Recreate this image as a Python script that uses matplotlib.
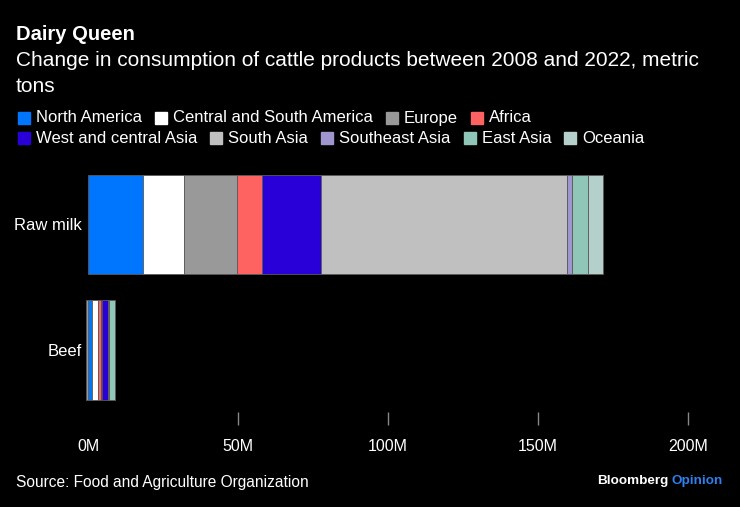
import numpy as np
import matplotlib
matplotlib.use("Agg")
import matplotlib.pyplot as plt
from matplotlib.patches import Rectangle

plt.rcParams["font.family"] = ["Liberation Sans", "DejaVu Sans"]

# data (million metric tons)
products = ["Raw milk", "Beef"]
regions = ["North America", "Central and South America", "Europe", "Africa",
           "West and central Asia", "South Asia", "Southeast Asia", "East Asia", "Oceania"]
colors = ["#0076ff", "#ffffff", "#999999", "#ff6361", "#2a00d8",
          "#c0c0c0", "#9f96d0", "#8fc6b8", "#b5d0ca"]
raw_milk = [18.2, 13.7, 17.9, 8.1, 19.8, 81.9, 1.6, 5.3, 5.0]
beef = [1.2, 2.0, -0.8, 1.3, 2.0, 0.3, 0.3, 1.9, 0.1]
xticks = [0, 50, 100, 150, 200]
xticklabels = ["0M", "50M", "100M", "150M", "200M"]

W, H = 740, 507
fig = plt.figure(figsize=(W / 100, H / 100), dpi=100, facecolor="black")
ax = fig.add_axes([86 / W, 1 - 425 / H, 614 / W, 260 / H], facecolor="black")

values = np.array([raw_milk, beef])
pos = np.zeros(len(products))
neg = np.zeros(len(products))
y = np.arange(len(products))
for i, (reg, col) in enumerate(zip(regions, colors)):
    v = values[:, i]
    left = np.where(v >= 0, pos, neg)
    ax.barh(y, v, left=left, height=0.79, color=col, edgecolor="#5a5a5a",
            linewidth=0.6, label=reg)
    pos = np.where(v >= 0, pos + v, pos)
    neg = np.where(v < 0, neg + v, neg)

ax.set_xlim(-2 / 3, 204)
ax.set_ylim(1.598, -0.474)
ax.set_yticks(y)
ax.set_yticklabels(products, color="white", fontsize=12)
ax.set_xticks(xticks)
ax.set_xticklabels(xticklabels, color="white", fontsize=11.5)
ax.tick_params(axis="y", length=0, pad=3)
ax.tick_params(axis="x", direction="in", length=9.5, color="#888888", width=1, pad=10)
ax.get_xaxis().get_major_ticks()[0].tick1line.set_visible(False)
for s in ax.spines.values():
    s.set_visible(False)

# titles
fig.text(16 / W, 1 - 35 / H, "Dairy Queen", color="white", fontsize=14.5,
         fontweight="bold", va="center")
fig.text(16 / W, 1 - 61 / H, "Change in consumption of cattle products between 2008 and 2022, metric",
         color="white", fontsize=15, va="center")
fig.text(16 / W, 1 - 86 / H, "tons", color="white", fontsize=15, va="center")

# manual legend in two rows
fig.canvas.draw()
renderer = fig.canvas.get_renderer()
rows = [regions[:4], regions[4:]]
row_y = [118, 138]
k = 0
for row, yy in zip(rows, row_y):
    x = 18
    for reg in row:
        fig.patches.append(Rectangle((x / W, 1 - (yy + 6) / H), 12 / W, 12 / H,
                                     transform=fig.transFigure, color=colors[k]))
        t = fig.text((x + 18) / W, 1 - yy / H, reg, color="white", fontsize=12, va="center")
        w = t.get_window_extent(renderer).width
        x += 18 + w + 13
        k += 1

# footer
fig.text(16 / W, 1 - 483 / H, "Source: Food and Agriculture Organization",
         color="white", fontsize=11.2, va="center")
t2 = fig.text(723 / W, 1 - 481 / H, "Opinion", color="#2f7fef", fontsize=9.7,
              fontweight="bold", va="center", ha="right")
w2 = t2.get_window_extent(renderer).width
fig.text((723 - w2 - 3) / W, 1 - 481 / H, "Bloomberg", color="white", fontsize=9.7,
         fontweight="bold", va="center", ha="right")

fig.savefig("out.png", dpi=100, facecolor="black")
